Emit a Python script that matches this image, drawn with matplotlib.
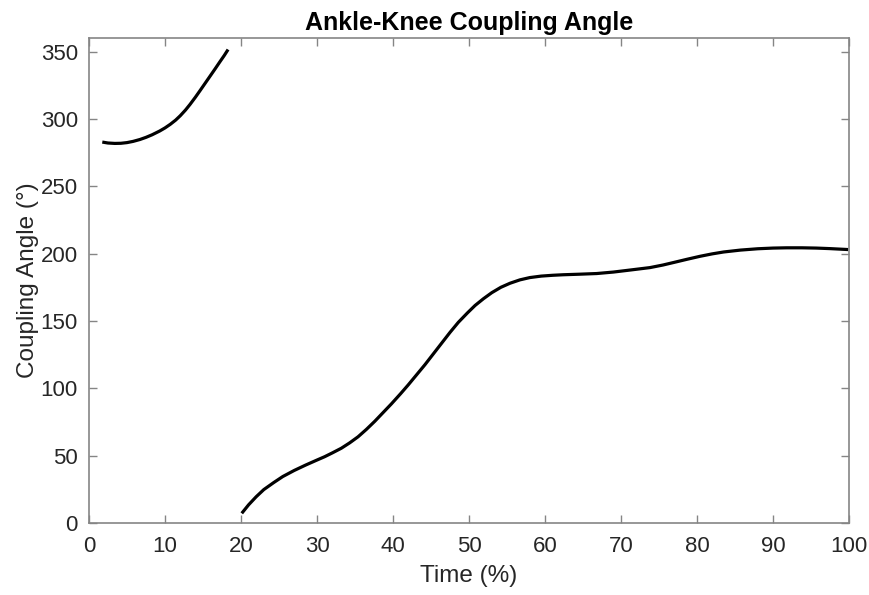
import numpy as np
import matplotlib
matplotlib.use("Agg")
import matplotlib.pyplot as plt

# coupling angle traces (time in % of cycle, angle in degrees)
seg1_time = [1.75, 2.5, 3.4, 4.2, 5.0, 5.8, 6.7, 7.5, 8.3, 9.3, 10.0, 10.7, 11.4, 12.0,
             12.7, 13.3, 14.0, 14.6, 15.3, 16.0, 16.6, 17.2, 17.8, 18.3]
seg1_angle = [282.8, 282.1, 281.8, 281.9, 282.4, 283.3, 284.7, 286.3, 288.2, 291.0, 293.3,
              296.0, 299.1, 302.3, 306.6, 310.8, 316.1, 320.9, 326.6, 332.3, 337.2, 342.2,
              347.1, 351.5]

seg2_time = [20.1, 21.0, 22.0, 23.0, 24.3, 25.5, 27.0, 28.5, 29.9, 31.0, 32.0, 33.2, 34.3,
             35.4, 36.5, 37.6, 38.7, 39.8, 41.0, 42.0, 43.1, 44.2, 45.3, 46.4, 47.5, 48.6,
             49.8, 50.8, 51.9, 53.0, 54.2, 55.4, 56.7, 58.0, 59.5, 61.0, 62.4, 64.5, 66.8,
             69.0, 71.2, 73.8, 75.5, 77.0, 78.7, 80.4, 82.0, 83.5, 85.7, 88.0, 90.0, 91.8,
             93.8, 95.7, 97.5, 99.9]
seg2_angle = [7.2, 13.5, 19.5, 24.8, 30.0, 34.5, 39.0, 43.0, 46.5, 49.2, 52.0, 55.5, 59.5,
              64.0, 69.5, 75.5, 82.0, 88.5, 96.0, 102.5, 110.0, 117.5, 125.5, 133.5, 141.5,
              149.0, 156.0, 161.5, 166.5, 171.0, 175.0, 178.0, 180.5, 182.2, 183.3, 183.9,
              184.3, 184.7, 185.2, 186.3, 187.8, 189.6, 191.5, 193.5, 195.8, 198.0, 199.8,
              201.2, 202.6, 203.6, 204.1, 204.3, 204.3, 204.1, 203.7, 203.0]

plt.rcParams["font.family"] = ["Liberation Sans", "DejaVu Sans"]

fig = plt.figure(figsize=(8.69, 5.95), dpi=100)
ax = fig.add_axes([0.1024, 0.121, 0.8746, 0.815])

ax.plot(seg1_time, seg1_angle, color="black", lw=2.3, solid_capstyle="butt")
ax.plot(seg2_time, seg2_angle, color="black", lw=2.3, solid_capstyle="butt")

ax.set_xlim(0, 100)
ax.set_ylim(0, 360)
ax.set_xticks(np.arange(0, 101, 10))
ax.set_yticks(np.arange(0, 351, 50))

axis_grey = "#858585"
for sp in ax.spines.values():
    sp.set_color(axis_grey)
    sp.set_linewidth(1.2)
ax.tick_params(direction="in", top=True, right=True, length=6, width=1.0,
               color=axis_grey, labelcolor="#262626", labelsize=16)
ax.tick_params(axis="x", pad=9)
ax.tick_params(axis="y", pad=8)

ax.set_title("Ankle-Knee Coupling Angle", fontsize=18, fontweight="bold", pad=6)
ax.set_xlabel("Time (%)", fontsize=17.5, color="#262626", labelpad=6)
ax.set_ylabel("Coupling Angle (°)", fontsize=17.5, color="#262626", labelpad=1)

fig.savefig("out.png", dpi=100)
